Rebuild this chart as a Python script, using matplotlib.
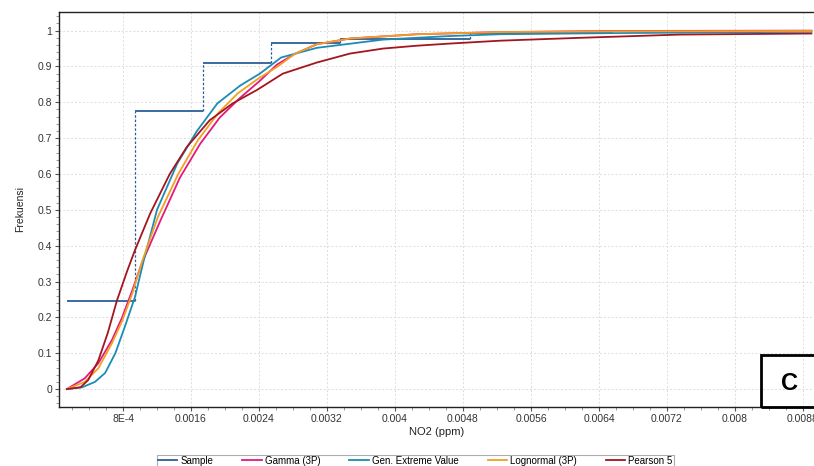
import numpy as np
import matplotlib.pyplot as plt
from matplotlib.ticker import MultipleLocator, FixedLocator, FuncFormatter
from matplotlib.patches import Rectangle

plt.rcParams['font.family'] = ['Liberation Sans', 'DejaVu Sans']

# empirical CDF (sample) - step edges and levels
sample_x = [0.00014, 0.00094, 0.00174, 0.00254, 0.00335, 0.00488, 0.00656]
sample_y = [0.245, 0.775, 0.91, 0.965, 0.978, 0.993]

# fitted CDFs
gamma_x = [0.00014, 0.00035, 0.00051, 0.00067, 0.00079, 0.00091, 0.00102, 0.00124, 0.00147,
           0.00171, 0.00194, 0.00218, 0.00241, 0.00261, 0.00282, 0.00308, 0.00347, 0.00426,
           0.00524, 0.0065, 0.0089]
gamma_y = [0, 0.03, 0.072, 0.137, 0.2, 0.276, 0.35, 0.47, 0.59, 0.685, 0.758, 0.813, 0.86,
           0.905, 0.935, 0.962, 0.978, 0.99, 0.996, 0.999, 1.0]

gev_x = [0.00014, 0.00032, 0.00047, 0.00059, 0.00071, 0.00082, 0.00094, 0.00104, 0.0012,
         0.00144, 0.00167, 0.00191, 0.00218, 0.00241, 0.00266, 0.00308, 0.00386, 0.00465,
         0.00524, 0.0065, 0.0089]
gev_y = [0, 0.005, 0.02, 0.045, 0.1, 0.173, 0.256, 0.355, 0.5, 0.63, 0.72, 0.797, 0.847,
         0.88, 0.925, 0.952, 0.975, 0.985, 0.99, 0.993, 0.997]

logn_x = [0.00014, 0.00035, 0.00051, 0.00067, 0.00079, 0.00091, 0.00103, 0.00121, 0.00145,
          0.00168, 0.00192, 0.00215, 0.00239, 0.00262, 0.00282, 0.00308, 0.00347, 0.00426,
          0.00524, 0.0065, 0.0089]
logn_y = [0, 0.02, 0.058, 0.128, 0.19, 0.267, 0.36, 0.48, 0.60, 0.694, 0.77, 0.825, 0.866,
          0.9, 0.935, 0.962, 0.978, 0.99, 0.996, 0.998, 0.999]

p5_x = [0.00014, 0.0003, 0.00039, 0.00051, 0.00062, 0.00073, 0.00085, 0.00094, 0.00112,
        0.00135, 0.00155, 0.00182, 0.00209, 0.00238, 0.00268, 0.00308, 0.00347, 0.00386,
        0.00426, 0.00465, 0.00524, 0.00618, 0.00735, 0.0089]
p5_y = [0, 0.005, 0.025, 0.08, 0.156, 0.248, 0.33, 0.387, 0.49, 0.60, 0.675, 0.75, 0.797,
        0.835, 0.88, 0.911, 0.936, 0.95, 0.958, 0.964, 0.972, 0.98, 0.989, 0.992]

xticks = [0.0008, 0.0016, 0.0024, 0.0032, 0.004, 0.0048, 0.0056, 0.0064, 0.0072, 0.008, 0.0088]
xlabels = ['8E-4', '0.0016', '0.0024', '0.0032', '0.004', '0.0048', '0.0056', '0.0064',
           '0.0072', '0.008', '0.0088']

c_sample = '#2d5f98'
c_gamma = '#e3197c'
c_gev = '#1b8cb5'
c_logn = '#f2a024'
c_p5 = '#a3151f'

fig = plt.figure(figsize=(8.14, 4.66), dpi=100)
ax = fig.add_axes([59 / 814, 1 - 407 / 466, 1 - 59 / 814, (407 - 12) / 466])

# sample step: solid horizontals, dotted verticals
ax.hlines(sample_y, sample_x[:-1], sample_x[1:], color=c_sample, lw=1.3, zorder=2)
ax.vlines(sample_x[1:-1], sample_y[:-1], sample_y[1:], color=c_sample, lw=0.9,
          linestyles=(0, (2, 1.5)), zorder=2)

ax.plot(gamma_x, gamma_y, color=c_gamma, lw=1.3, zorder=3)
ax.plot(gev_x, gev_y, color=c_gev, lw=1.3, zorder=3)
ax.plot(logn_x, logn_y, color=c_logn, lw=1.3, zorder=3)
ax.plot(p5_x, p5_y, color=c_p5, lw=1.3, zorder=3)

ax.set_xlim(0.000047, 0.00893)
ax.set_ylim(-0.05, 1.052)

ax.xaxis.set_major_locator(FixedLocator(xticks))
ax.set_xticklabels(xlabels)
ax.xaxis.set_minor_locator(MultipleLocator(0.0002))
ax.yaxis.set_major_locator(MultipleLocator(0.1))
ax.yaxis.set_major_formatter(FuncFormatter(lambda v, p: '%g' % round(v, 2)))
ax.yaxis.set_minor_locator(MultipleLocator(0.02))
ax.tick_params(which='major', length=3, width=0.8, color='#555555', labelsize=7.5,
               labelcolor='#333333', pad=2)
ax.tick_params(which='minor', length=2, width=0.6, color='#888888')

ax.grid(True, which='major', color='#dddddd', lw=0.7, linestyle=(0, (2, 2)))
ax.set_axisbelow(True)

for s in ['left', 'bottom', 'top']:
    ax.spines[s].set_color('#222222')
    ax.spines[s].set_linewidth(1.0)
ax.spines['right'].set_visible(False)

ax.set_xlabel('NO2 (ppm)', fontsize=8, color='#222222', labelpad=2)
ax.set_ylabel('Frekuensi', fontsize=7.5, color='#222222', labelpad=9)

# panel letter box
ax_w = 814 - 59
ax.add_patch(Rectangle(((761 - 59) / ax_w, 0), 1, (407 - 355) / 395,
                       transform=ax.transAxes, fill=False, edgecolor='black', lw=2,
                       clip_on=False, zorder=5))
fig.text(790 / 814, 1 - 384 / 466, 'C', fontsize=17, fontweight='bold',
         ha='center', va='center')

handles = [plt.Line2D([], [], color=c, lw=1.3) for c in [c_sample, c_gamma, c_gev, c_logn, c_p5]]
names = ['Sample', 'Gamma (3P)', 'Gen. Extreme Value', 'Lognormal (3P)', 'Pearson 5']
leg = fig.legend(handles, names, ncol=5, loc='upper left',
                 bbox_to_anchor=(152 / 814, 1 - 450 / 466), fontsize=7,
                 handlelength=2.0, handletextpad=0.3, columnspacing=3.0,
                 frameon=True, fancybox=False, borderpad=0.1)
leg.get_frame().set_edgecolor('#999999')
leg.get_frame().set_linewidth(0.8)

fig.savefig('out.png', dpi=100)
